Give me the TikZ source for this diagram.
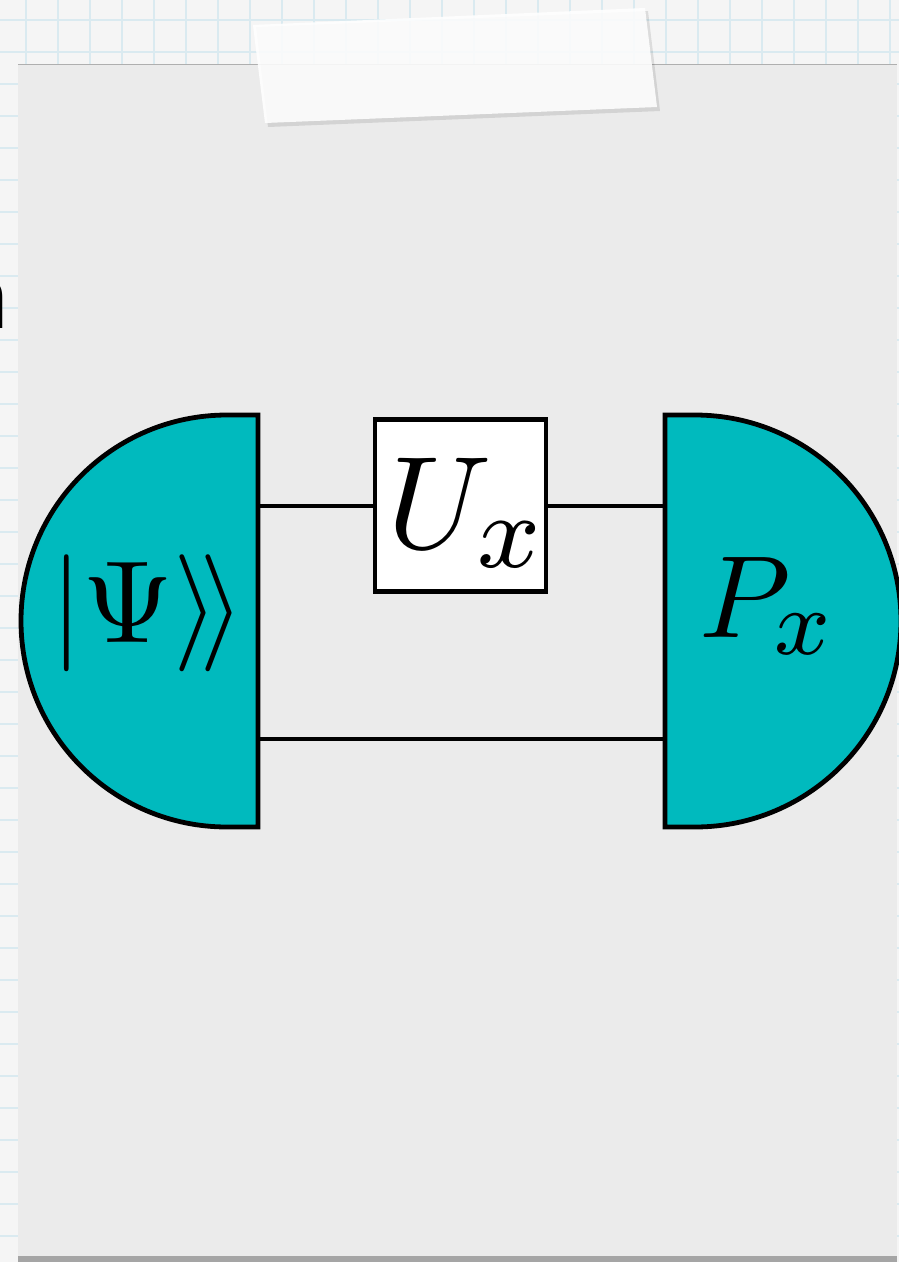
\documentclass[tikz,border=0pt]{standalone}
\usepackage{amsmath}
\usepackage[no-math]{fontspec}
\newfontfamily\nfont{Liberation Sans}
\DeclareMathSizes{10}{10}{8}{6}
\definecolor{qteal}{RGB}{0,186,190}
\definecolor{bgpaper}{RGB}{245,245,245}
\definecolor{gridblue}{RGB}{218,234,240}
\definecolor{sheet}{RGB}{235,235,235}
\definecolor{shadowgray}{RGB}{165,165,165}
\definecolor{edgegray}{RGB}{175,175,175}
\tikzset{
  halfdisc/.style={fill=qteal, draw=black, line width=4.8pt, line join=miter},
  wire/.style={draw=black, line width=4pt},
  gatebox/.style={draw=black, fill=white, line width=4.8pt, minimum width=171pt, minimum height=172pt, inner sep=0pt},
  lbl/.style={inner sep=0pt, anchor=base, font=\fontsize{10}{12}\selectfont}
}
\begin{document}
\begin{tikzpicture}[x=1pt,y=-1pt]
\useasboundingbox (0,0) rectangle (899,1262);
% grid paper background
\fill[bgpaper] (0,0) rectangle (899,1262);
\foreach \gx in {26,58,...,890} \draw[gridblue, line width=1.5pt] (\gx,0) -- (\gx,1262);
\foreach \gy in {20,52,...,1262} \draw[gridblue, line width=1.5pt] (0,\gy) -- (899,\gy);
% partial letter at the left edge
\node[inner sep=0pt, anchor=base east, font=\nfont\fontsize{88}{100}\selectfont] (nfrag) at (9,328) {n};
% sheet
\fill[shadowgray] (18,1255) rectangle (897,1262);
\fill[sheet] (18,64) rectangle (897,1256);
\draw[edgegray, line width=1pt] (18,64.5) -- (897,64.5);
% tape
\fill[black, opacity=0.10] (256,27) -- (648,11) -- (660,111) -- (268,127) -- cycle;
\fill[white, opacity=0.88] (253,25) -- (645,8) -- (657,107) -- (265,123) -- cycle;
% left half disc
\draw[halfdisc] (258,415) -- (227,415) arc[start angle=270, end angle=90, radius=206] -- (258,827) -- cycle;
% right half disc
\draw[halfdisc] (665,415) -- (695,415) arc[start angle=-90, end angle=90, radius=206] -- (665,827) -- cycle;
% named wire ends on the flat sides
\coordinate (psiA) at (258,505.5);
\coordinate (psiB) at (258,739);
\coordinate (measA) at (665,505.5);
\coordinate (measB) at (665,739);
% gate
\node[gatebox] (gate) at (460.5,505.5) {};
\draw[wire] (psiA) -- (gate.west);
\draw[wire] (gate.east) -- (measA);
\draw[wire] (psiB) -- (measB);
% labels
\node[lbl, scale=13.2] (ulbl) at (467,548) {$U_x$};
\node[lbl, scale=11.7] (psilbl) at (148,642) {$\lvert\Psi\rangle\!\rangle$};
\node[lbl, scale=11.7] (plbl) at (768,637) {$P_x$};
\end{tikzpicture}
\end{document}
